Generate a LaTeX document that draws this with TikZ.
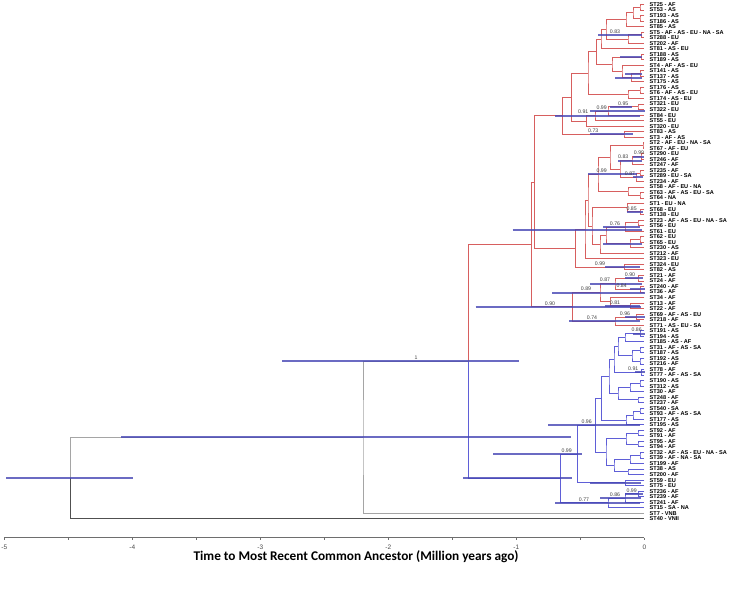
\documentclass[tikz,border=0pt]{standalone}
\usepackage{fontspec}
\setmainfont{Liberation Sans}
\newfontfamily\titlefont{Carlito}
\usetikzlibrary{calc}
\definecolor{redbr}{RGB}{215,95,95}
\definecolor{bluebr}{RGB}{95,95,215}
\definecolor{graybr}{RGB}{165,165,165}
\definecolor{darkbr}{RGB}{80,80,80}
\definecolor{barc}{RGB}{70,70,180}
\definecolor{axc}{RGB}{110,110,110}
\newcommand\nd[5]{\path let \p1=($(#3)!0.5!(#4)$) in coordinate (#1) at (#2pt,\y1); \draw[#5] (#3) -| (#1) |- (#4);}
\newcommand\hpd[3]{\draw[hpdbar] let \p1=(#1) in (#2pt,\y1) -- (#3pt,\y1);}
\newcommand\plab[3]{\path let \p1=(#1) in node[pplab] (lab-#1) at (#2pt,{\y1+3.6pt}) {#3};}
\tikzset{
  rb/.style={draw=redbr,line width=0.9pt},
  bb/.style={draw=bluebr,line width=0.9pt},
  gb/.style={draw=graybr,line width=0.9pt},
  db/.style={draw=darkbr,line width=0.9pt},
  hpdbar/.style={draw=barc,line width=2pt,draw opacity=0.8},
  pplab/.style={font=\fontsize{5.2}{6}\selectfont,text=black!75,inner sep=0pt},
  tiplab/.style={font=\fontsize{5.6}{6}\selectfont\bfseries,anchor=west,inner sep=0pt,text=black},
  ticklab/.style={font=\fontsize{6.5}{7}\selectfont,text=black!70,inner sep=0pt},
  ttl/.style={font=\titlefont\bfseries\fontsize{13.3}{15}\selectfont,text=black,inner sep=0pt}
}
\begin{document}
\begin{tikzpicture}[x=1pt,y=-1pt]
\fill[white] (0,0) rectangle (733,598);
\useasboundingbox (0,0) rectangle (733,598);
% tips and labels
\foreach \lab [count=\i] in {ST25 - AF, ST53 - AS, ST193 - AS, ST186 - AS, ST85 - AS, ST5 - AF - AS - EU - NA - SA, ST288 - EU, ST202 - AF, ST81 - AS - EU, ST188 - AS, ST189 - AS, ST4 - AF - AS - EU, ST141 - AS, ST137 - AS, ST175 - AS, ST176 - AS, ST6 - AF - AS - EU, ST174 - AS - EU, ST321 - EU, ST322 - EU, ST84 - EU, ST55 - EU, ST320 - EU, ST83 - AS, ST3 - AF - AS, ST2 - AF - EU - NA - SA, ST67 - AF - EU, ST290 - EU, ST246 - AF, ST247 - AF, ST235 - AF, ST289 - EU - SA, ST234 - AF, ST58 - AF - EU - NA, ST63 - AF - AS - EU - SA, ST64 - NA, ST1 - EU - NA, ST68 - EU, ST138 - EU, ST23 - AF - AS - EU - NA - SA, ST56 - EU, ST61 - EU, ST62 - EU, ST65 - EU, ST230 - AS, ST212 - AF, ST323 - EU, ST324 - EU, ST82 - AS, ST21 - AF, ST24 - AF, ST240 - AF, ST36 - AF, ST34 - AF, ST13 - AF, ST22 - AF, ST69 - AF - AS - EU, ST218 - AF, ST71 - AS - EU - SA, ST191 - AS, ST194 - AS, ST185 - AS - AF, ST31 - AF - AS - SA, ST187 - AS, ST192 - AS, ST216 - AF, ST78 - AF, ST77 - AF - AS - SA, ST190 - AS, ST312 - AS, ST30 - AF, ST248 - AF, ST237 - AF, ST540 - SA, ST93 - AF - AS - SA, ST177 - AS, ST195 - AS, ST92 - AF, ST91 - AF, ST95 - AF, ST94 - AF, ST32 - AF - AS - EU - NA - SA, ST39 - AF - NA - SA, ST199 - AF, ST38 - AS, ST200 - AF, ST59 - EU, ST75 - EU, ST236 - AF, ST239 - AF, ST241 - AF, ST15 - SA - NA, ST7 - VNB, ST40 - VNII}{
  \coordinate (t\i) at (644.3,{4.5+(\i-1)*5.53});
  \node[tiplab] (L\i) at (649.5,{4.5+(\i-1)*5.53}) {\lab};
}
% red clade
\nd{a1}{640}{t1}{t2}{rb}
\nd{a2}{640}{t3}{t4}{rb}
\nd{a3}{633}{a1}{a2}{rb}
\nd{a4}{626}{a3}{t5}{rb}
\nd{a5}{641}{t6}{t7}{rb}
\nd{a6}{628}{a5}{t8}{rb}
\nd{a7}{606}{a4}{a6}{rb}
\nd{a8}{601}{a7}{t9}{rb}
\nd{a9}{641}{t10}{t11}{rb}
\nd{a10}{640}{t13}{t14}{rb}
\nd{a11}{631}{a10}{t15}{rb}
\nd{a12}{622}{t12}{a11}{rb}
\nd{a13}{612}{a9}{a12}{rb}
\nd{a14}{640}{t16}{t17}{rb}
\nd{a15}{628}{a14}{t18}{rb}
\nd{Fx}{596.7}{a8}{a13}{rb}
\nd{Fu}{588}{Fx}{a15}{rb}
\nd{N95}{638}{t19}{t20}{rb}
\nd{N99}{608}{N95}{t21}{rb}
\nd{N91}{595}{N99}{t22}{rb}
\nd{Hn}{586.7}{N91}{t23}{rb}
\nd{F}{571.7}{Fu}{Hn}{rb}
\nd{G}{624}{t24}{t25}{rb}
\nd{E}{562.7}{F}{G}{rb}
\nd{b1}{643}{t26}{t27}{rb}
\nd{b2}{641}{t28}{t29}{rb}
\nd{b3}{632}{b2}{t30}{rb}
\nd{b4}{640}{t31}{t32}{rb}
\nd{b5}{636}{b4}{t33}{rb}
\nd{b6}{620}{b3}{b5}{rb}
\nd{b7}{610}{b1}{b6}{rb}
\nd{c1}{640}{t35}{t36}{rb}
\nd{c2}{628}{t34}{c1}{rb}
\nd{X1}{598}{b7}{c2}{rb}
\nd{c3}{640}{t38}{t39}{rb}
\nd{c4}{627}{t37}{c3}{rb}
\nd{c6}{638}{t40}{t41}{rb}
\nd{c7}{625}{c6}{t42}{rb}
\nd{c8}{640}{t43}{t44}{rb}
\nd{c9}{630}{c8}{t45}{rb}
\nd{c10}{606}{c7}{c9}{rb}
\nd{c11}{600}{c10}{t46}{rb}
\nd{X2}{592}{c4}{c11}{rb}
\nd{X}{588}{X1}{X2}{rb}
\nd{W}{585}{X}{t47}{rb}
\nd{N99b}{624}{t48}{t49}{rb}
\nd{V}{575.7}{W}{N99b}{rb}
\nd{U}{534.3}{E}{V}{rb}
\nd{d1}{638}{t50}{t51}{rb}
\nd{d2}{640}{t52}{t53}{rb}
\nd{d3}{615}{d1}{d2}{rb}
\nd{d4}{630}{t55}{t56}{rb}
\nd{d5}{610}{t54}{d4}{rb}
\nd{P89}{600}{d3}{d5}{rb}
\nd{P96}{636}{t57}{t58}{rb}
\nd{P74}{615}{P96}{t59}{rb}
\nd{L}{572.3}{P89}{P74}{rb}
\nd{D}{531.7}{U}{L}{rb}
% blue clade
\nd{h1}{640}{t60}{t61}{bb}
\nd{h2}{625}{h1}{t62}{bb}
\nd{h3}{640}{t63}{t64}{bb}
\nd{h4}{640}{t65}{t66}{bb}
\nd{h5}{632}{h3}{h4}{bb}
\nd{h6}{618}{h2}{h5}{bb}
\nd{h7}{641}{t67}{t68}{bb}
\nd{h8}{614}{h6}{h7}{bb}
\nd{h9}{640}{t69}{t70}{bb}
\nd{h10}{630}{h9}{t71}{bb}
\nd{h11}{638}{t72}{t73}{bb}
\nd{h12}{618}{h10}{h11}{bb}
\nd{K1}{609}{h8}{h12}{bb}
\nd{k1}{640}{t74}{t75}{bb}
\nd{k2}{633}{k1}{t76}{bb}
\nd{k3}{626}{k2}{t77}{bb}
\nd{K1p}{601.7}{K1}{k3}{bb}
\nd{k4}{638}{t78}{t79}{bb}
\nd{k5}{638}{t80}{t81}{bb}
\nd{k6}{626}{k4}{k5}{bb}
\nd{k8}{640}{t82}{t83}{bb}
\nd{k9}{630}{k8}{t84}{bb}
\nd{k10}{628}{t85}{t86}{bb}
\nd{k11}{614}{k9}{k10}{bb}
\nd{K2}{606}{k6}{k11}{bb}
\nd{N96}{595.7}{K1p}{K2}{bb}
\nd{g0}{625}{t87}{t88}{bb}
\nd{N99c}{577.7}{N96}{g0}{bb}
\nd{g1}{638}{t89}{t90}{bb}
\nd{g2}{625}{g1}{t91}{bb}
\nd{g3}{608}{g2}{t92}{bb}
\nd{Cb}{560.3}{N99c}{g3}{bb}
% deep nodes
\path let \p1=($(D)!0.5!(Cb)$) in coordinate (B) at (468.7pt,\y1);
\draw[rb] (D) -| (B);
\draw[bb] (Cb) -| (B);
\nd{A}{363}{B}{t93}{gb}
\path let \p1=($(A)!0.5!(t94)$) in coordinate (R) at (70pt,\y1);
\draw[gb] (A) -| (R);
\draw[db] (R) |- (t94);
% HPD bars
\hpd{R}{6}{133}
\hpd{A}{121}{571}
\hpd{B}{282}{519}
\hpd{Cb}{463.3}{572}
\hpd{N99c}{493.3}{582}
\hpd{N96}{548.3}{640}
\hpd{g3}{555}{640}
\hpd{g2}{600}{641}
\hpd{g1}{625}{643}
\hpd{g0}{590}{641}
\hpd{N91}{555}{640}
\hpd{N99}{590}{645}
\hpd{N95}{610}{631.7}
\hpd{G}{590}{633}
\hpd{a5}{598}{642}
\hpd{a9}{620}{642}
\hpd{a10}{625}{642}
\hpd{a11}{615}{642}
\hpd{b2}{633}{644}
\hpd{b3}{618}{642}
\hpd{b5}{633}{643}
\hpd{X1}{588}{637}
\hpd{c3}{626.7}{643}
\hpd{c7}{603}{640}
\hpd{c9}{603}{642}
\hpd{W}{512.7}{641.7}
\hpd{N99b}{605}{640}
\hpd{d1}{625}{643}
\hpd{d2}{630}{645}
\hpd{d3}{590}{641.7}
\hpd{d4}{605}{640}
\hpd{P89}{552}{645}
\hpd{P96}{625}{645}
\hpd{P74}{569}{640}
\hpd{L}{475.7}{641}
\hpd{h1}{633}{645}
\hpd{h7}{635}{645}
% posterior labels
\plab{B}{416}{1}
\plab{N99c}{566.7}{0.99}
\plab{N96}{586.7}{0.96}
\plab{g3}{584}{0.77}
\plab{g2}{615}{0.86}
\plab{g1}{631.7}{0.99}
\plab{N91}{583.3}{0.91}
\plab{N99}{601.7}{0.99}
\plab{N95}{623.3}{0.95}
\plab{G}{593.3}{0.73}
\plab{a5}{615}{0.83}
\plab{b2}{639}{0.99}
\plab{b3}{623.3}{0.83}
\plab{b5}{630}{0.87}
\plab{X1}{601.7}{0.99}
\plab{c3}{631.7}{0.85}
\plab{c7}{615}{0.76}
\plab{N99b}{600}{0.99}
\plab{d1}{630}{0.90}
\plab{d2}{621.7}{0.84}
\plab{d3}{605}{0.87}
\plab{d4}{615}{0.81}
\plab{P89}{586}{0.89}
\plab{P96}{625}{0.96}
\plab{P74}{592}{0.74}
\plab{L}{550}{0.90}
\plab{h1}{636.7}{0.86}
\plab{h7}{633.3}{0.91}
% axis
\coordinate (ax0) at (4.3,537.5);
\coordinate (ax1) at (644.3,537.5);
\draw[axc,line width=0.7pt] (ax0) -- (ax1);
\foreach \k in {0,...,10}{
  \coordinate (tk\k) at ({4.3+64*\k},537.5);
  \draw[axc,line width=0.6pt] (tk\k) -- ++(0,2.5);
}
\foreach \v [count=\j from 0] in {-5,-4,-3,-2,-1,0}{
  \node[ticklab] (tl\j) at ({4.3+128*\j},547) {\v};
}
\node[ttl] (title) at (356,557) {Time to Most Recent Common Ancestor (Million years ago)};
\end{tikzpicture}
\end{document}
